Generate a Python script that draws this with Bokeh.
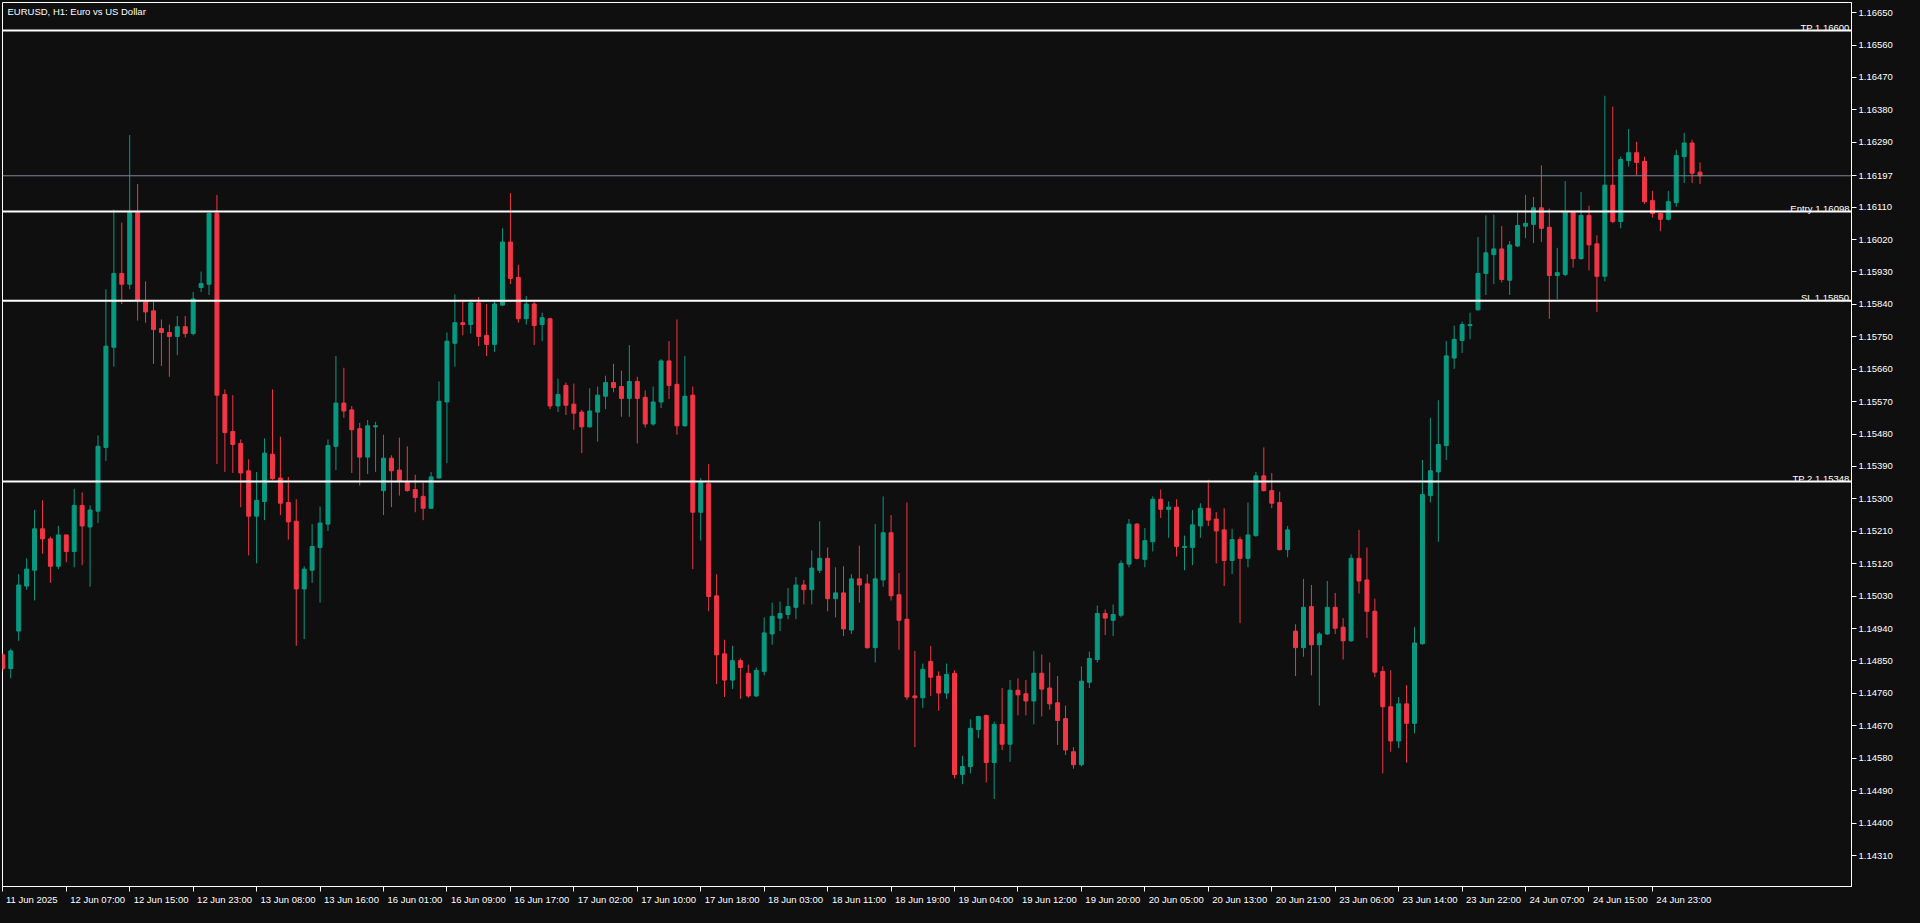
from bokeh.plotting import figure
from bokeh.models import Range1d, FixedTicker, Span, Label, ColumnDataSource, NumeralTickFormatter
from bokeh.embed import file_html
from bokeh.resources import INLINE

chart_title = "EURUSD, H1:  Euro vs US Dollar"

opens = [1.14867, 1.14829, 1.14933, 1.15058, 1.15102, 1.15217, 1.15189, 1.15113, 1.15200, 1.15154,
         1.15282, 1.15222, 1.15266, 1.15443, 1.15721, 1.15926, 1.15896, 1.16095, 1.15847, 1.15822,
         1.15773, 1.15762, 1.15751, 1.15778, 1.15759, 1.15887, 1.15896, 1.16092, 1.15590, 1.15487,
         1.15454, 1.15378, 1.15252, 1.15293, 1.15424, 1.15358, 1.15290, 1.15238, 1.15050, 1.15102,
         1.15165, 1.15230, 1.15446, 1.15566, 1.15547, 1.15495, 1.15416, 1.15500, 1.15323, 1.15413,
         1.15380, 1.15345, 1.15326, 1.15307, 1.15274, 1.15358, 1.15569, 1.15732, 1.15789, 1.15784,
         1.15844, 1.15754, 1.15729, 1.15838, 1.16013, 1.15915, 1.15800, 1.15841, 1.15784, 1.15800,
         1.15558, 1.15615, 1.15563, 1.15541, 1.15500, 1.15541, 1.15585, 1.15623, 1.15612, 1.15579,
         1.15626, 1.15582, 1.15508, 1.15569, 1.15683, 1.15618, 1.15503, 1.15588, 1.15263, 1.15342,
         1.15031, 1.14870, 1.14797, 1.14851, 1.14816, 1.14753, 1.14821, 1.14925, 1.14969, 1.14979,
         1.14999, 1.15061, 1.15048, 1.15102, 1.15135, 1.15023, 1.15039, 1.14936, 1.15078, 1.15064,
         1.14887, 1.15075, 1.15206, 1.15034, 1.14966, 1.14753, 1.14748, 1.14849, 1.14808, 1.14761,
         1.14816, 1.14535, 1.14557, 1.14660, 1.14699, 1.14568, 1.14674, 1.14619, 1.14769, 1.14759,
         1.14739, 1.14816, 1.14775, 1.14734, 1.14690, 1.14598, 1.14562, 1.14791, 1.14854, 1.14982,
         1.14963, 1.14977, 1.15119, 1.15230, 1.15132, 1.15181, 1.15299, 1.15271, 1.15277, 1.15165,
         1.15165, 1.15225, 1.15274, 1.15244, 1.15214, 1.15129, 1.15187, 1.15135, 1.15198, 1.15364,
         1.15323, 1.15290, 1.15159, 1.14933, 1.14887, 1.15001, 1.14895, 1.14925, 1.14999, 1.14944,
         1.14906, 1.15135, 1.15075, 1.14988, 1.14821, 1.14723, 1.14628, 1.14731, 1.14677, 1.14898,
         1.15309, 1.15375, 1.15448, 1.15691, 1.15740, 1.15781, 1.15825, 1.15926, 1.15978, 1.15994,
         1.15907, 1.16002, 1.16057, 1.16062, 1.16108, 1.16054, 1.15920, 1.15923, 1.16098, 1.15967,
         1.16087, 1.16008, 1.15918, 1.16171, 1.16070, 1.16239, 1.16261, 1.16237, 1.16128, 1.16092,
         1.16076, 1.16122, 1.16250, 1.16288, 1.16207]

highs = [1.14873, 1.14884, 1.15091, 1.15135, 1.15269, 1.15296, 1.15195, 1.15225, 1.15201, 1.15328,
         1.15318, 1.15282, 1.15476, 1.15882, 1.16103, 1.16067, 1.16310, 1.16174, 1.15904, 1.15847,
         1.15798, 1.15784, 1.15808, 1.15808, 1.15874, 1.15931, 1.16095, 1.16144, 1.15604, 1.15588,
         1.15465, 1.15410, 1.15375, 1.15468, 1.15604, 1.15473, 1.15361, 1.15299, 1.15113, 1.15230,
         1.15279, 1.15465, 1.15697, 1.15664, 1.15558, 1.15511, 1.15519, 1.15514, 1.15478, 1.15421,
         1.15470, 1.15446, 1.15367, 1.15345, 1.15375, 1.15626, 1.15762, 1.15868, 1.15847, 1.15847,
         1.15860, 1.15841, 1.15847, 1.16051, 1.16149, 1.15950, 1.15863, 1.15847, 1.15817, 1.15803,
         1.15634, 1.15623, 1.15620, 1.15547, 1.15607, 1.15612, 1.15642, 1.15675, 1.15656, 1.15727,
         1.15639, 1.15601, 1.15612, 1.15688, 1.15738, 1.15798, 1.15697, 1.15612, 1.15358, 1.15397,
         1.15091, 1.14909, 1.14892, 1.14857, 1.14840, 1.14832, 1.14971, 1.15012, 1.15015, 1.15053,
         1.15083, 1.15075, 1.15157, 1.15238, 1.15165, 1.15110, 1.15113, 1.15091, 1.15170, 1.15091,
         1.15230, 1.15307, 1.15255, 1.15094, 1.15290, 1.14878, 1.14843, 1.14892, 1.14821, 1.14843,
         1.14824, 1.14587, 1.14688, 1.14698, 1.14701, 1.14682, 1.14775, 1.14797, 1.14802, 1.14797,
         1.14878, 1.14868, 1.14846, 1.14808, 1.14726, 1.14611, 1.14835, 1.14876, 1.15004, 1.14993,
         1.15007, 1.15129, 1.15244, 1.15233, 1.15219, 1.15307, 1.15326, 1.15293, 1.15299, 1.15198,
         1.15269, 1.15288, 1.15353, 1.15263, 1.15274, 1.15217, 1.15195, 1.15290, 1.15375, 1.15443,
         1.15372, 1.15320, 1.15225, 1.14952, 1.15078, 1.15061, 1.14930, 1.15072, 1.15039, 1.14969,
         1.15146, 1.15214, 1.15165, 1.15023, 1.14835, 1.14824, 1.14750, 1.14783, 1.14944, 1.15408,
         1.15525, 1.15574, 1.15738, 1.15781, 1.15792, 1.15817, 1.16027, 1.16087, 1.16089, 1.16057,
         1.16016, 1.16095, 1.16144, 1.16138, 1.16226, 1.16106, 1.15997, 1.16182, 1.16100, 1.16152,
         1.16114, 1.16032, 1.16419, 1.16389, 1.16250, 1.16327, 1.16291, 1.16250, 1.16155, 1.16095,
         1.16155, 1.16269, 1.16316, 1.16297, 1.16234]

lows = [1.14821, 1.14802, 1.14906, 1.15048, 1.15018, 1.15148, 1.15067, 1.15105, 1.15124, 1.15110,
        1.15116, 1.15056, 1.15233, 1.15405, 1.15667, 1.15841, 1.15882, 1.15795, 1.15789, 1.15675,
        1.15669, 1.15639, 1.15699, 1.15748, 1.15754, 1.15874, 1.15866, 1.15397, 1.15375, 1.15372,
        1.15277, 1.15143, 1.15121, 1.15241, 1.15353, 1.15255, 1.15187, 1.14892, 1.14911, 1.15067,
        1.15012, 1.15211, 1.15380, 1.15525, 1.15372, 1.15337, 1.15369, 1.15375, 1.15255, 1.15277,
        1.15309, 1.15320, 1.15263, 1.15241, 1.15272, 1.15356, 1.15399, 1.15667, 1.15754, 1.15759,
        1.15724, 1.15697, 1.15708, 1.15836, 1.15896, 1.15789, 1.15784, 1.15727, 1.15738, 1.15549,
        1.15541, 1.15533, 1.15492, 1.15427, 1.15498, 1.15459, 1.15549, 1.15596, 1.15528, 1.15528,
        1.15454, 1.15498, 1.15503, 1.15552, 1.15577, 1.15478, 1.15500, 1.15105, 1.15184, 1.14988,
        1.14786, 1.14750, 1.14772, 1.14745, 1.14748, 1.14750, 1.14810, 1.14895, 1.14933, 1.14966,
        1.14966, 1.15007, 1.15007, 1.15094, 1.14988, 1.14971, 1.14919, 1.14925, 1.15012, 1.14884,
        1.14846, 1.15056, 1.15018, 1.14881, 1.14742, 1.14611, 1.14720, 1.14753, 1.14712, 1.14745,
        1.14524, 1.14508, 1.14538, 1.14636, 1.14513, 1.14467, 1.14603, 1.14570, 1.14699, 1.14699,
        1.14674, 1.14696, 1.14715, 1.14617, 1.14589, 1.14551, 1.14557, 1.14775, 1.14846, 1.14922,
        1.14919, 1.14971, 1.15110, 1.15132, 1.15110, 1.15154, 1.15247, 1.15192, 1.15140, 1.15102,
        1.15116, 1.15192, 1.15225, 1.15121, 1.15058, 1.15091, 1.14955, 1.15110, 1.15195, 1.15320,
        1.15274, 1.15157, 1.15138, 1.14808, 1.14862, 1.14810, 1.14726, 1.14922, 1.14925, 1.14854,
        1.14903, 1.15037, 1.14914, 1.14805, 1.14538, 1.14598, 1.14608, 1.14568, 1.14649, 1.14895,
        1.15290, 1.15181, 1.15408, 1.15661, 1.15705, 1.15743, 1.15822, 1.15866, 1.15896, 1.15901,
        1.15866, 1.15999, 1.16024, 1.16010, 1.16013, 1.15800, 1.15855, 1.15918, 1.15942, 1.15964,
        1.15934, 1.15819, 1.15904, 1.16065, 1.16051, 1.16223, 1.16198, 1.16119, 1.16081, 1.16043,
        1.16073, 1.16111, 1.16177, 1.16177, 1.16174]

closes = [1.14829, 1.14878, 1.15061, 1.15105, 1.15217, 1.15189, 1.15113, 1.15200, 1.15154, 1.15282,
          1.15225, 1.15269, 1.15446, 1.15724, 1.15926, 1.15896, 1.16095, 1.15852, 1.15819, 1.15770,
          1.15762, 1.15751, 1.15778, 1.15759, 1.15855, 1.15898, 1.16092, 1.15588, 1.15484, 1.15451,
          1.15372, 1.15252, 1.15296, 1.15427, 1.15356, 1.15288, 1.15236, 1.15050, 1.15105, 1.15168,
          1.15233, 1.15448, 1.15566, 1.15544, 1.15492, 1.15416, 1.15503, 1.15503, 1.15413, 1.15378,
          1.15350, 1.15323, 1.15304, 1.15274, 1.15361, 1.15571, 1.15738, 1.15789, 1.15784, 1.15844,
          1.15751, 1.15729, 1.15841, 1.16013, 1.15912, 1.15800, 1.15841, 1.15781, 1.15803, 1.15558,
          1.15590, 1.15560, 1.15538, 1.15500, 1.15544, 1.15588, 1.15623, 1.15609, 1.15579, 1.15626,
          1.15579, 1.15508, 1.15569, 1.15683, 1.15615, 1.15503, 1.15585, 1.15263, 1.15345, 1.15029,
          1.14867, 1.14797, 1.14851, 1.14832, 1.14753, 1.14824, 1.14928, 1.14974, 1.14982, 1.15001,
          1.15061, 1.15048, 1.15108, 1.15135, 1.15023, 1.15039, 1.14939, 1.15078, 1.15061, 1.14887,
          1.15078, 1.15206, 1.15031, 1.14963, 1.14750, 1.14748, 1.14827, 1.14805, 1.14761, 1.14813,
          1.14535, 1.14557, 1.14663, 1.14696, 1.14568, 1.14674, 1.14619, 1.14769, 1.14756, 1.14739,
          1.14816, 1.14772, 1.14731, 1.14685, 1.14603, 1.14562, 1.14794, 1.14857, 1.14982, 1.14969,
          1.14979, 1.15121, 1.15230, 1.15135, 1.15184, 1.15299, 1.15271, 1.15277, 1.15168, 1.15168,
          1.15228, 1.15274, 1.15241, 1.15211, 1.15129, 1.15187, 1.15135, 1.15200, 1.15364, 1.15323,
          1.15288, 1.15159, 1.15214, 1.14887, 1.14999, 1.14895, 1.14925, 1.14999, 1.14941, 1.14906,
          1.15135, 1.15072, 1.14988, 1.14819, 1.14723, 1.14628, 1.14731, 1.14677, 1.14900, 1.15312,
          1.15378, 1.15451, 1.15697, 1.15743, 1.15784, 1.15784, 1.15926, 1.15983, 1.15994, 1.15909,
          1.16005, 1.16059, 1.16065, 1.16108, 1.16051, 1.15920, 1.15928, 1.16098, 1.15967, 1.16087,
          1.16005, 1.15918, 1.16171, 1.16070, 1.16242, 1.16261, 1.16234, 1.16125, 1.16092, 1.16076,
          1.16125, 1.16253, 1.16288, 1.16204, 1.16197]

x_labels = ["11 Jun 2025", "12 Jun 07:00", "12 Jun 15:00", "12 Jun 23:00", "13 Jun 08:00",
            "13 Jun 16:00", "16 Jun 01:00", "16 Jun 09:00", "16 Jun 17:00", "17 Jun 02:00",
            "17 Jun 10:00", "17 Jun 18:00", "18 Jun 03:00", "18 Jun 11:00", "18 Jun 19:00",
            "19 Jun 04:00", "19 Jun 12:00", "19 Jun 20:00", "20 Jun 05:00", "20 Jun 13:00",
            "20 Jun 21:00", "23 Jun 06:00", "23 Jun 14:00", "23 Jun 22:00", "24 Jun 07:00",
            "24 Jun 15:00", "24 Jun 23:00"]
bars_per_label = 8

price_ticks = [1.16650, 1.16560, 1.16470, 1.16380, 1.16290, 1.16110, 1.16020, 1.15930,
               1.15840, 1.15750, 1.15660, 1.15570, 1.15480, 1.15390, 1.15300, 1.15210,
               1.15120, 1.15030, 1.14940, 1.14850, 1.14760, 1.14670, 1.14580, 1.14490,
               1.14400, 1.14310]

level_names = ["TP", "Entry", "SL", "TP 2"]
level_values = [1.16600, 1.16098, 1.15850, 1.15348]

BG = "#0f0f0f"
BULL = "#089981"
BEAR = "#f23645"
FONT = "Liberation Sans"
FS = "9.5px"

W, H = 1904, 907
BORDER_L, BORDER_R = 2, 53

idx = list(range(len(opens)))
colors = [BULL if c >= o else BEAR for o, c in zip(opens, closes)]
src = ColumnDataSource(dict(
    x=idx, open=opens, high=highs, low=lows, close=closes,
    top=[max(o, c) for o, c in zip(opens, closes)],
    bottom=[min(o, c) for o, c in zip(opens, closes)],
    color=colors))

X0, X1 = -0.04, 233.1
Y0, Y1 = 1.14224, 1.16678

p = figure(width=W, height=H, output_backend="svg", toolbar_location=None,
           y_axis_location="right", x_range=Range1d(X0, X1), y_range=Range1d(Y0, Y1),
           min_border_left=BORDER_L, min_border_top=2, min_border_right=BORDER_R,
           min_border_bottom=21)
p.background_fill_color = BG
p.border_fill_color = BG
p.outline_line_color = "white"
p.outline_line_width = 1
p.grid.visible = False

p.segment(x0="x", y0="low", x1="x", y1="high", line_color="color", line_width=1, source=src)
p.vbar(x="x", width=0.5, top="top", bottom="bottom", fill_color="color",
       line_color="color", line_width=1, source=src)

# x axis: tick marks on the bars (as minor ticks), label text starting just right of each mark
px_per_bar = (W - BORDER_L - BORDER_R) / (X1 - X0)
tick_bars = [i * bars_per_label for i in range(len(x_labels))]
label_pos = [round(t + (2 + 2.45 * len(lab)) / px_per_bar, 2) for t, lab in zip(tick_bars, x_labels)]
p.xaxis.ticker = FixedTicker(ticks=label_pos, minor_ticks=tick_bars)
p.xaxis.major_label_overrides = {lp: lab for lp, lab in zip(label_pos, x_labels)}
p.xaxis.major_tick_line_color = None
p.xaxis.minor_tick_line_color = "white"
p.xaxis.minor_tick_in = 0
p.xaxis.minor_tick_out = 5

last = closes[-1]
p.yaxis.ticker = FixedTicker(ticks=sorted(price_ticks + [last]))
p.yaxis.formatter = NumeralTickFormatter(format="0.00000")
p.yaxis.major_tick_line_color = "white"
p.yaxis.minor_tick_line_color = None

for ax in (p.xaxis, p.yaxis):
    ax.axis_line_color = "white"
    ax.major_tick_in = 0
    ax.major_tick_out = 5
    ax.major_label_text_color = "white"
    ax.major_label_text_font = FONT
    ax.major_label_text_font_size = FS
    ax.major_label_standoff = 2

for name, lv in zip(level_names, level_values):
    p.add_layout(Span(location=lv, dimension="width", line_color="white", line_width=2))
    p.add_layout(Label(x=X1, y=lv, x_offset=-2, y_offset=3, text=f"{name} {lv:.5f}",
                       text_align="right", text_baseline="alphabetic", text_color="white",
                       text_font=FONT, text_font_size=FS))

p.add_layout(Span(location=last, dimension="width", line_color="#778899", line_width=1))

p.add_layout(Label(x=X0, y=Y1, x_offset=5, y_offset=-3, text=chart_title, text_align="left",
                   text_baseline="top", text_color="white", text_font=FONT, text_font_size=FS))

html = file_html(p, INLINE, title="EURUSD, H1")
html = html.replace("</head>", "<style>html, body { background: #0f0f0f; }</style></head>")
open("out.html", "w").write(html)
